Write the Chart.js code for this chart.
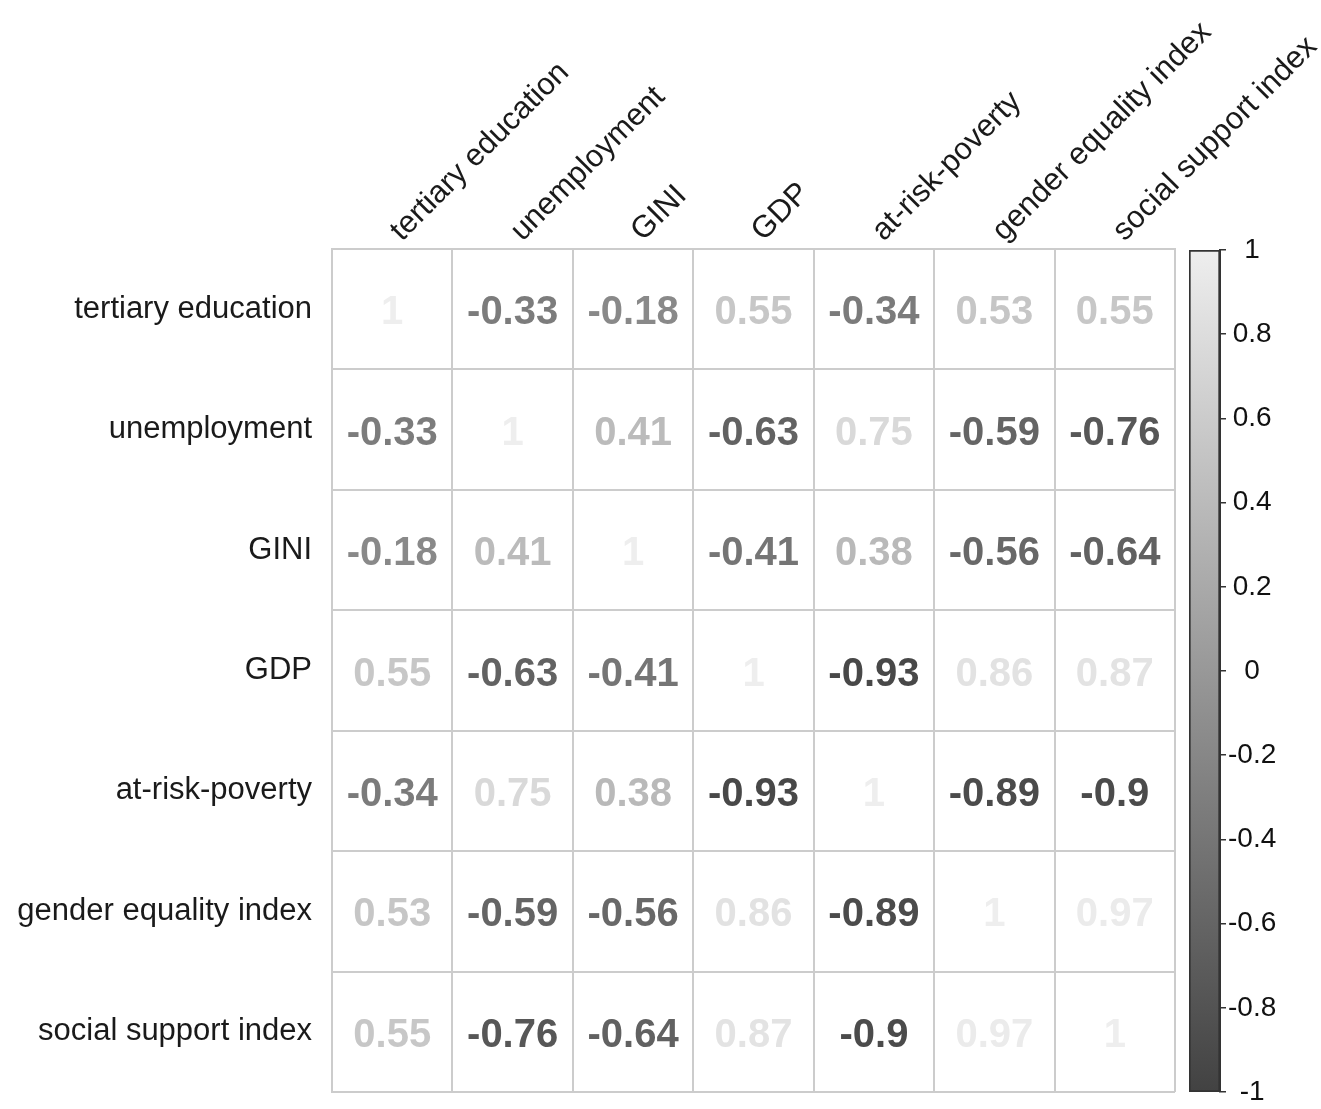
<!DOCTYPE html>
<html>
<head>
<meta charset="utf-8">
<script src="https://cdn.jsdelivr.net/npm/chart.js@4/dist/chart.umd.min.js"></script>
<style>
  html, body { margin: 0; padding: 0; background: #ffffff; overflow: hidden; }
  #wrap { position: relative; width: 1321px; height: 1109px; }
  #main { position: absolute; left: 0; top: 0; }
  #bar { position: absolute; left: 1180px; top: 0; }
</style>
</head>
<body>
<div id="wrap">
  <canvas id="main" width="1321" height="1109"></canvas>
  <canvas id="bar" width="141" height="1109"></canvas>
</div>
<script>
// ---- data ----
const variables = ["tertiary education", "unemployment", "GINI", "GDP", "at-risk-poverty", "gender equality index", "social support index"];
const tertiaryEducation   = [1, -0.33, -0.18, 0.55, -0.34, 0.53, 0.55];
const unemployment        = [-0.33, 1, 0.41, -0.63, 0.75, -0.59, -0.76];
const gini                = [-0.18, 0.41, 1, -0.41, 0.38, -0.56, -0.64];
const gdp                 = [0.55, -0.63, -0.41, 1, -0.93, 0.86, 0.87];
const atRiskPoverty       = [-0.34, 0.75, 0.38, -0.93, 1, -0.89, -0.9];
const genderEqualityIndex = [0.53, -0.59, -0.56, 0.86, -0.89, 1, 0.97];
const socialSupportIndex  = [0.55, -0.76, -0.64, 0.87, -0.9, 0.97, 1];
const colorbarTicks = [-1, -0.8, -0.6, -0.4, -0.2, 0, 0.2, 0.4, 0.6, 0.8, 1];

const matrixRows = [tertiaryEducation, unemployment, gini, gdp, atRiskPoverty, genderEqualityIndex, socialSupportIndex];

// grey colour map: -1 dark, +1 light
function greyFor(v) {
  const g = Math.round(66 + (v + 1) / 2 * 172);
  return `rgb(${g},${g},${g})`;
}

const points = [];
matrixRows.forEach((row, r) => {
  row.forEach((v, c) => {
    points.push({ x: variables[c], y: variables[r], v: v });
  });
});

const FONT = "'Liberation Sans', Arial, Helvetica, sans-serif";
const GRID = "#cccccc";

const numberPlugin = {
  id: "numberPlugin",
  afterDatasetsDraw(chart) {
    const ctx = chart.ctx;
    const meta = chart.getDatasetMeta(0);
    ctx.save();
    ctx.font = "bold 40px " + FONT;
    ctx.textAlign = "center";
    ctx.textBaseline = "middle";
    meta.data.forEach((el, i) => {
      const p = chart.data.datasets[0].data[i];
      ctx.fillStyle = greyFor(p.v);
      ctx.fillText(String(p.v), el.x, el.y + 4);
    });
    ctx.restore();
  }
};

new Chart(document.getElementById("main"), {
  type: "scatter",
  data: {
    datasets: [{
      data: points,
      pointRadius: 0,
      pointHoverRadius: 0,
      showLine: false
    }]
  },
  options: {
    responsive: false,
    animation: false,
    events: [],
    layout: { padding: { left: 0, top: 0, right: 146, bottom: 17 } },
    plugins: { legend: { display: false }, tooltip: { enabled: false } },
    scales: {
      x: {
        type: "category",
        labels: variables,
        position: "top",
        offset: true,
        grid: { offset: true, color: GRID, lineWidth: 2, drawTicks: false },
        border: { display: true, color: GRID, width: 2 },
        ticks: {
          autoSkip: false,
          minRotation: 45,
          maxRotation: 45,
          padding: 0,
          labelOffset: 30,
          color: "#1a1a1a",
          font: { family: FONT, size: 31 }
        },
        afterFit(scale) { scale.height = 249; }
      },
      y: {
        type: "category",
        labels: variables,
        offset: true,
        grid: { offset: true, color: GRID, lineWidth: 2, drawTicks: true, tickLength: 20, tickColor: "rgba(0,0,0,0)" },
        border: { display: true, color: GRID, width: 2 },
        ticks: {
          autoSkip: false,
          padding: 0,
          color: "#1a1a1a",
          font: { family: FONT, size: 31, lineHeight: 1.0 }
        },
        afterFit(scale) { scale.width = 332; }
      }
    }
  },
  plugins: [numberPlugin]
});

// ---- colour bar ----
new Chart(document.getElementById("bar"), {
  type: "bar",
  data: {
    labels: [""],
    datasets: [{
      data: [[colorbarTicks[0], colorbarTicks[colorbarTicks.length - 1]]],
      barPercentage: 1,
      categoryPercentage: 1,
      borderWidth: 2,
      borderColor: "#333333",
      borderSkipped: false,
      backgroundColor(ctx) {
        const chart = ctx.chart;
        if (!chart.chartArea) return "#999";
        const ys = chart.scales.y;
        const lo = colorbarTicks[0], hi = colorbarTicks[colorbarTicks.length - 1];
        const g = chart.ctx.createLinearGradient(0, ys.getPixelForValue(lo), 0, ys.getPixelForValue(hi));
        g.addColorStop(0, greyFor(lo));
        g.addColorStop(1, greyFor(hi));
        return g;
      }
    }]
  },
  options: {
    responsive: false,
    animation: false,
    events: [],
    layout: { padding: { left: 9, top: 250, right: 0, bottom: 17 } },
    plugins: { legend: { display: false }, tooltip: { enabled: false } },
    scales: {
      x: { display: false },
      y: {
        position: "right",
        min: -1,
        max: 1,
        afterBuildTicks(scale) { scale.ticks = colorbarTicks.map(v => ({ value: v })); },
        grid: { drawOnChartArea: false, drawTicks: true, tickLength: 6, color: "#333333", lineWidth: 1.5 },
        border: { display: true, color: "#333333", width: 2 },
        ticks: {
          crossAlign: "center",
          padding: 2,
          color: "#111111",
          font: { family: FONT, size: 28, lineHeight: 1.0 },
          callback(v) { return String(Math.round(v * 10) / 10); }
        },
        afterFit(scale) { scale.width = 101; }
      }
    }
  }
});
</script>
</body>
</html>
